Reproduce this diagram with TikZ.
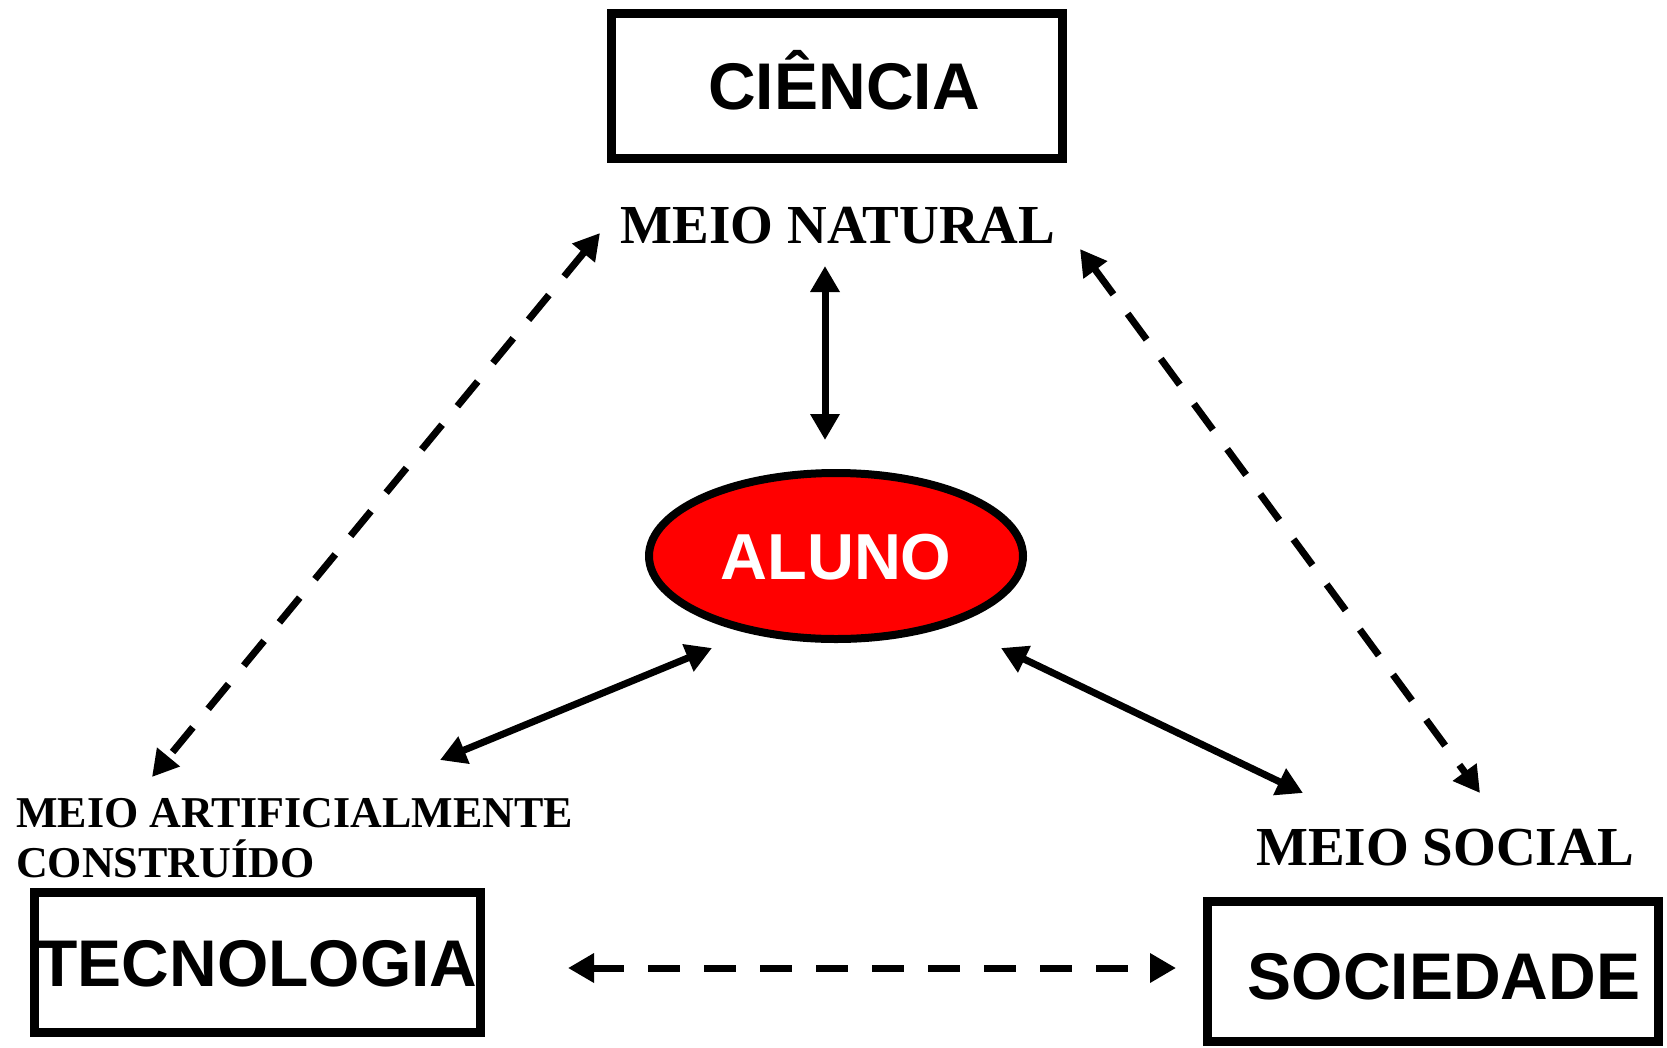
\documentclass[tikz,border=0pt]{standalone}
\usepackage{fontspec}
\setmainfont{Liberation Serif}
\newfontfamily\boxfont{Liberation Sans}
\usetikzlibrary{arrows.meta,shapes.geometric}
\definecolor{alunored}{RGB}{255,0,0}
\begin{document}
\begin{tikzpicture}[x=1pt,y=-1pt,
  boxnode/.style={draw,line width=9pt,rectangle,inner sep=0pt,
    font=\boxfont\bfseries\fontsize{66}{70}\selectfont,
    text height=47.3pt,text depth=0pt},
  meiolabel/.style={inner sep=0pt,anchor=base,
    font=\bfseries\fontsize{55}{60}\selectfont},
  solidarr/.style={line width=7pt,{Triangle[length=26pt,width=28pt]}-{Triangle[length=26pt,width=28pt]}},
  dasharr/.style={line width=7pt,dash pattern=on 32pt off 24pt,{Triangle[length=26pt,width=28pt]}-{Triangle[length=26pt,width=28pt]}}
]
\useasboundingbox (0,0) rectangle (1667,1047);

% boxes
\node[boxnode,minimum width=451pt,minimum height=145pt] (ciencia) at (837,86) {\hspace*{14pt}CIÊNCIA};
\node[boxnode,minimum width=446pt,minimum height=140pt] (tecnologia) at (257.5,962.5) {TECNOLOGIA};
\node[boxnode,minimum width=451pt,minimum height=140pt] (sociedade) at (1433,971.5) {\hspace*{22pt}\raisebox{-4.5pt}{SOCIEDADE}};

% central ellipse
\node[ellipse,draw,line width=8pt,fill=alunored,minimum width=374pt,minimum height=166pt,inner sep=0pt,
  text=white,font=\boxfont\bfseries\fontsize{65}{70}\selectfont,text height=46.5pt,text depth=0pt] (aluno) at (836,556) {ALUNO};

% labels
\node[meiolabel] (natural) at (838,243) {MEIO NATURAL};
\node[meiolabel] (social) at (1445,865) {MEIO SOCIAL};
\node[inner sep=0pt,anchor=base west,align=left,font=\bfseries\fontsize{44}{50}\selectfont] (artificial) at (16,877) {MEIO ARTIFICIALMENTE\\CONSTRUÍDO};

% connector ends
\coordinate (nA) at (825,266);
\coordinate (nB) at (825,440);
\coordinate (tA) at (440,760);
\coordinate (tB) at (712,648);
\coordinate (sA) at (1001,648);
\coordinate (sB) at (1303,793);
\coordinate (dlA) at (600,233);
\coordinate (dlB) at (152,777);
\coordinate (drA) at (1080,249);
\coordinate (drB) at (1480,793);
\coordinate (hA) at (568,968);
\coordinate (hB) at (1176,968);

% solid arrows
\draw[solidarr] (nA) -- (nB);
\draw[solidarr] (tA) -- (tB);
\draw[solidarr] (sA) -- (sB);

% dashed arrows
\draw[dasharr] (dlA) -- (dlB);
\draw[dasharr] (drA) -- (drB);
\draw[dasharr] (hA) -- (hB);
\end{tikzpicture}
\end{document}
